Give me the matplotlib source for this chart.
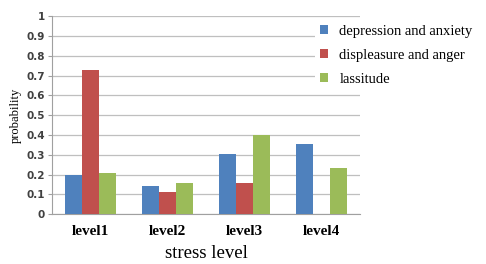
import numpy as np
import matplotlib
matplotlib.use('Agg')
import matplotlib.pyplot as plt

levels = ['level1', 'level2', 'level3', 'level4']
depression = [0.20, 0.14, 0.305, 0.355]
displeasure = [0.73, 0.11, 0.155, 0.0]
lassitude = [0.21, 0.155, 0.40, 0.235]
series_names = ['depression and anxiety', 'displeasure and anger', 'lassitude']
colors = ['#4F81BD', '#C0504D', '#9BBB59']

fig = plt.figure(figsize=(4.86, 2.64), dpi=100)
ax = fig.add_axes([0.107, 0.189, 0.634, 0.75])

x = np.arange(len(levels))
w = 0.22
for i, (vals, name, c) in enumerate(zip([depression, displeasure, lassitude], series_names, colors)):
    ax.bar(x + (i - 1) * w, vals, w, color=c, label=name, zorder=3)

ax.set_ylim(0, 1)
ax.set_xlim(-0.5, 3.5)
ax.set_yticks(np.arange(0, 1.01, 0.1))
ax.set_yticklabels(['0'] + ['%.1f' % v for v in np.arange(0.1, 0.95, 0.1)] + ['1'],
                   fontsize=7.5, fontweight='bold', color='#404040')
ax.set_xticks(x)
ax.set_xticklabels(levels, fontsize=11, fontweight='bold', family='Liberation Serif')
ax.grid(axis='y', color='#BFBFBF', lw=0.9, zorder=0)
for s in ['top', 'right']:
    ax.spines[s].set_visible(False)
ax.spines['left'].set_color('#A0A0A0')
ax.spines['bottom'].set_color('#A0A0A0')
ax.tick_params(axis='y', length=3, color='#A0A0A0', pad=2)
ax.tick_params(axis='x', length=0, pad=8)

ax.set_ylabel('probability', fontsize=9, family='Liberation Serif', labelpad=3)
ax.set_xlabel('stress level', fontsize=13.5, family='Liberation Serif', labelpad=5)

leg = ax.legend(loc='upper left', bbox_to_anchor=(308 / 486, 1 - 13 / 264),
                bbox_transform=fig.transFigure, frameon=True,
                prop={'family': 'Liberation Serif', 'size': 10.5},
                handlelength=0.55, handleheight=0.55, handletextpad=0.8, labelspacing=0.75,
                borderpad=0.3, edgecolor='none', facecolor='white', framealpha=1)

fig.savefig('out.png', dpi=100)
